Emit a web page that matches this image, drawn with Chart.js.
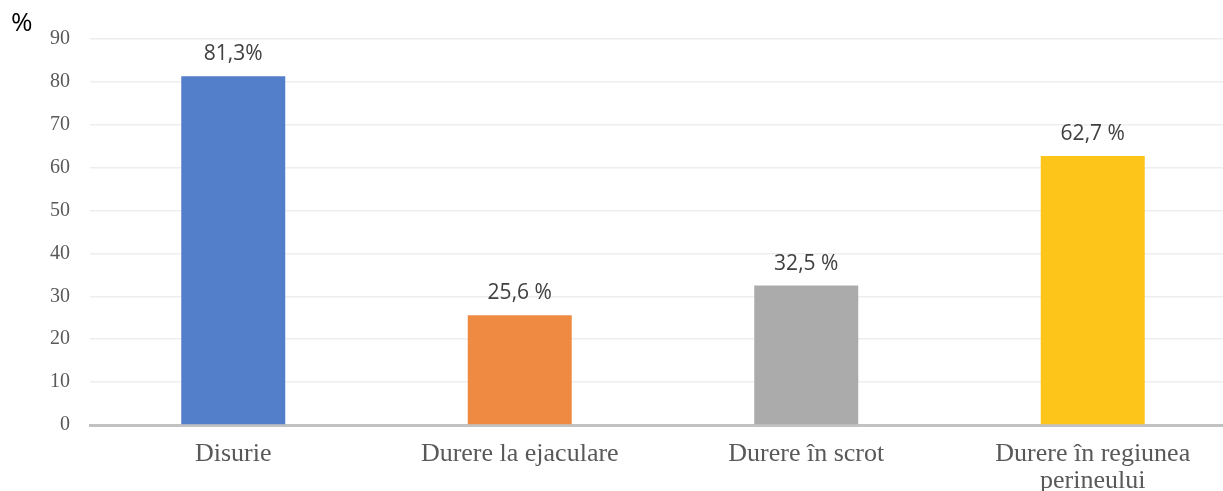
<!DOCTYPE html>
<html>
<head>
<meta charset="utf-8">
<script src="https://cdn.jsdelivr.net/npm/chart.js@4/dist/chart.umd.min.js"></script>
<style>
  html, body { margin: 0; padding: 0; background: #fff; overflow: hidden; }
  #wrap { position: relative; width: 1236px; height: 491px; }
  #unit { position: absolute; left: 11px; top: 3px; font: 26px "Open Sans", sans-serif; color: #000; }
</style>
</head>
<body>
<div id="wrap">
  <canvas id="chart"></canvas>
  <div id="unit">%</div>
</div>
<script>
const categories = ["Disurie", "Durere la ejaculare", "Durere în scrot", ["Durere în regiunea", "perineului"]];
const values = [81.3, 25.6, 32.5, 62.7];
const valueLabels = ["81,3%", "25,6 %", "32,5 %", "62,7 %"];
const barColors = ["#537fca", "#ef8a43", "#ababab", "#fdc519"];
const yTicks = [0, 10, 20, 30, 40, 50, 60, 70, 80, 90];

const barLabels = {
  id: "barLabels",
  afterDatasetsDraw(chart) {
    const ctx = chart.ctx;
    const meta = chart.getDatasetMeta(0);
    ctx.save();
    ctx.font = '21px "Open Sans", sans-serif';
    ctx.fillStyle = "#404040";
    ctx.textAlign = "center";
    ctx.textBaseline = "alphabetic";
    meta.data.forEach((bar, i) => {
      ctx.fillText(valueLabels[i], bar.x, bar.y - 16);
    });
    ctx.restore();
  }
};

document.addEventListener("DOMContentLoaded", () => {
  new Chart(document.getElementById("chart"), {
    type: "bar",
    data: {
      labels: categories,
      datasets: [{
        data: values,
        backgroundColor: barColors,
        barPercentage: 0.363,
        categoryPercentage: 1
      }]
    },
    options: {
      responsive: true,
      maintainAspectRatio: false,
      animation: false,
      layout: { padding: { top: 39, left: 0, right: 0, bottom: 0 } },
      plugins: { legend: { display: false }, tooltip: { enabled: false } },
      scales: {
        x: {
          grid: { display: false, drawTicks: false },
          border: { display: true, color: "#c2c2c2", width: 3 },
          ticks: {
            color: "#595959",
            font: { family: "'Liberation Serif', 'Times New Roman', serif", size: 26, lineHeight: 1.04 },
            padding: 16,
            maxRotation: 0,
            autoSkip: false
          },
          afterFit(scale) { scale.height = 66; }
        },
        y: {
          min: 0,
          max: 90,
          afterBuildTicks(scale) { scale.ticks = yTicks.map(v => ({ value: v })); },
          grid: { color: "#eeeeee", lineWidth: 1.5, drawTicks: false },
          border: { display: false },
          ticks: {
            color: "#595959",
            font: { family: "'Liberation Serif', 'Times New Roman', serif", size: 20 },
            padding: 20
          },
          afterFit(scale) { scale.width = 90; }
        }
      }
    },
    plugins: [barLabels]
  });
});
</script>
</body>
</html>
